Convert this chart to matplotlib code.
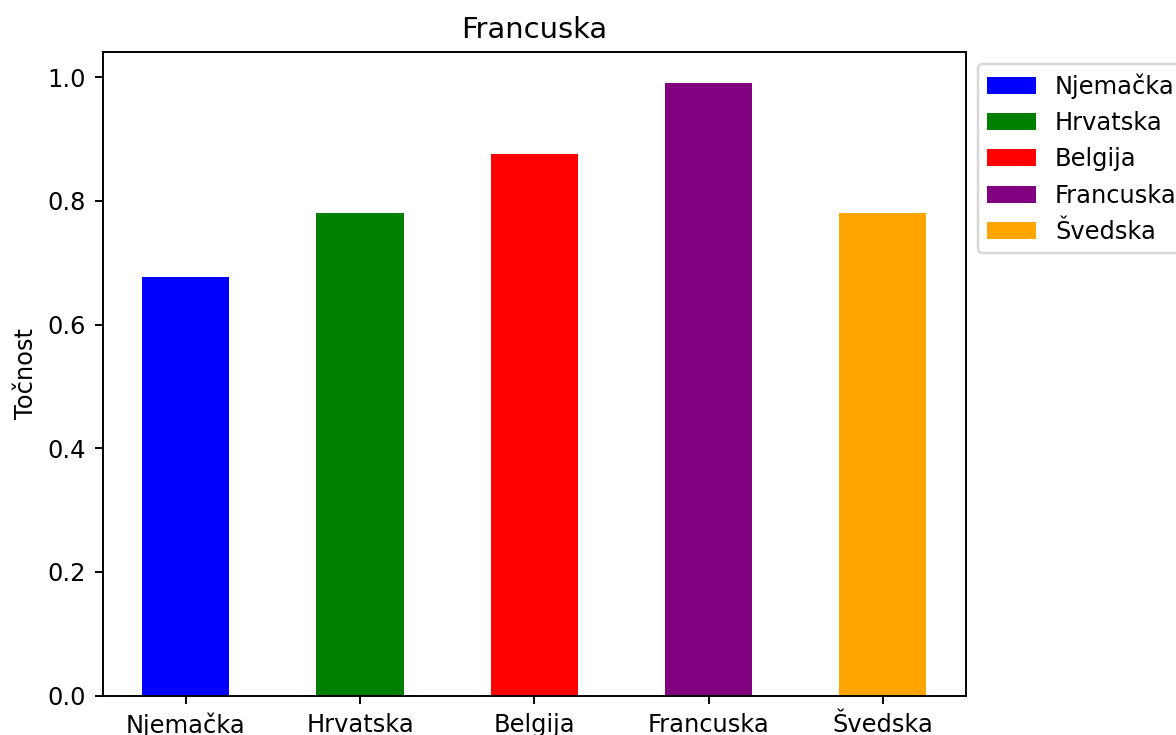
import matplotlib
matplotlib.use("Agg")
import matplotlib.pyplot as plt

# Accuracy of the "Francuska" model evaluated on each country's data
countries = ["Njemačka", "Hrvatska", "Belgija", "Francuska", "Švedska"]
accuracy = [0.677, 0.780, 0.876, 0.991, 0.780]
colors = ["blue", "green", "red", "purple", "orange"]

DPI = 174
fig = plt.figure(figsize=(1176 / DPI, 735 / DPI), dpi=DPI)
ax = fig.add_axes([103 / 1176, 1 - 695.7 / 735, 862.7 / 1176, 643.7 / 735])

for name, value, color in zip(countries, accuracy, colors):
    ax.bar(name, value, width=0.5, color=color, label=name)

ax.set_title("Francuska")
ax.set_ylabel("Točnost")
ax.legend(loc="upper left", bbox_to_anchor=(1, 1))

fig.savefig("out.png", dpi=DPI)
